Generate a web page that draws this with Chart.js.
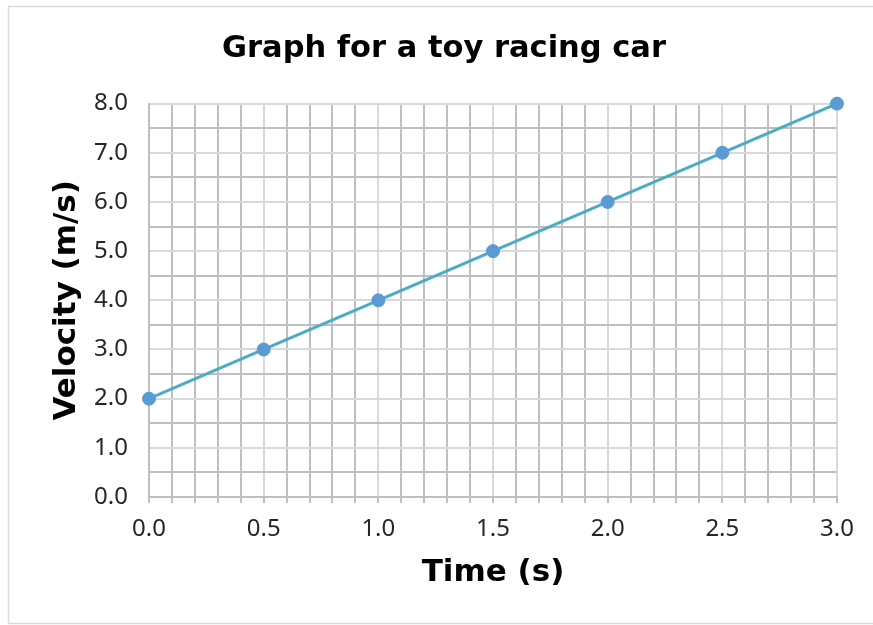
<!DOCTYPE html>
<html>
<head>
<meta charset="utf-8">
<script src="https://cdn.jsdelivr.net/npm/chart.js@4"></script>
<style>
  html, body { margin: 0; padding: 0; background: #fff; }
  #wrap { width: 873px; height: 625px; position: relative; }
</style>
</head>
<body>
<div id="wrap"><canvas id="chart"></canvas></div>
<script>
// Velocity vs time for a toy racing car
const timeValues = [0.0, 0.5, 1.0, 1.5, 2.0, 2.5, 3.0];
const velocityValues = [2.0, 3.0, 4.0, 5.0, 6.0, 7.0, 8.0];
const xMajorTicks = [0.0, 0.5, 1.0, 1.5, 2.0, 2.5, 3.0];
const yMajorTicks = [0, 1, 2, 3, 4, 5, 6, 7, 8];

const TICK_FONT = "'Noto Sans', 'DejaVu Sans', sans-serif";
const TITLE_FONT = "'DejaVu Sans', Verdana, sans-serif";

function isMajor(list, v) {
  return list.some((t) => Math.abs(t - v) < 1e-6);
}

// light frame around the whole chart
const framePlugin = {
  id: "frame",
  beforeDraw: function (chart) {
    const ctx = chart.ctx;
    ctx.save();
    ctx.fillStyle = "#fff";
    ctx.fillRect(0, 0, chart.width, chart.height);
    ctx.strokeStyle = "#d9d9d9";
    ctx.lineWidth = 1.5;
    ctx.strokeRect(8.5, 6.5, chart.width + 10, chart.height - 8);
    ctx.restore();
  },
};

new Chart(document.getElementById("chart"), {
  type: "scatter",
  data: {
    datasets: [
      {
        label: "Velocity",
        data: timeValues.map((t, i) => ({ x: t, y: velocityValues[i] })),
        showLine: true,
        clip: false,
        borderColor: "#4bacc6",
        borderWidth: 3,
        pointBackgroundColor: "#5b9bd5",
        pointBorderColor: "#5b9bd5",
        pointRadius: 6.5,
        pointBorderWidth: 1,
      },
    ],
  },
  options: {
    responsive: true,
    maintainAspectRatio: false,
    animation: false,
    layout: {
      padding: { left: 51, right: 36, top: 0, bottom: 0 },
    },
    plugins: {
      legend: { display: false },
      tooltip: { enabled: false },
      title: {
        display: true,
        text: "Graph for a toy racing car",
        color: "#000",
        font: { family: TITLE_FONT, size: 30.5, weight: "bold", lineHeight: 1.2 },
        padding: { top: 31, bottom: 36 },
      },
    },
    scales: {
      x: {
        type: "linear",
        min: 0,
        max: 3,
        afterFit: function (scale) {
          scale.height = 128;
        },
        ticks: {
          stepSize: 0.1,
          autoSkip: false,
          maxRotation: 0,
          color: "#262626",
          font: { family: TICK_FONT, size: 24 },
          padding: 12,
          callback: function (value) {
            return isMajor(xMajorTicks, value) ? value.toFixed(1) : "";
          },
        },
        grid: {
          color: function (c) {
            return isMajor(xMajorTicks, c.tick.value) ? "#d9d9d9" : "#bfbfbf";
          },
          lineWidth: 2,
          tickLength: 6,
          tickColor: "#bfbfbf",
        },
        border: { color: "#bfbfbf", width: 2 },
        title: {
          display: true,
          text: "Time (s)",
          color: "#000",
          font: { family: TITLE_FONT, size: 31, weight: "bold", lineHeight: 1.2 },
          padding: { top: 0, bottom: 33 },
        },
      },
      y: {
        type: "linear",
        min: 0,
        max: 8,
        afterFit: function (scale) {
          scale.width = 98;
        },
        ticks: {
          stepSize: 0.5,
          autoSkip: false,
          color: "#262626",
          font: { family: TICK_FONT, size: 24 },
          padding: 21,
          callback: function (value) {
            return isMajor(yMajorTicks, value) ? value.toFixed(1) : "";
          },
        },
        grid: {
          color: function (c) {
            return isMajor(yMajorTicks, c.tick.value) ? "#d9d9d9" : "#bfbfbf";
          },
          lineWidth: 2,
          drawTicks: false,
        },
        border: { color: "#bfbfbf", width: 2 },
        title: {
          display: true,
          text: "Velocity (m/s)",
          color: "#000",
          font: { family: TITLE_FONT, size: 31, weight: "bold", lineHeight: 1 },
          padding: { top: 0.5, bottom: 0 },
        },
      },
    },
  },
  plugins: [framePlugin],
});
</script>
</body>
</html>
